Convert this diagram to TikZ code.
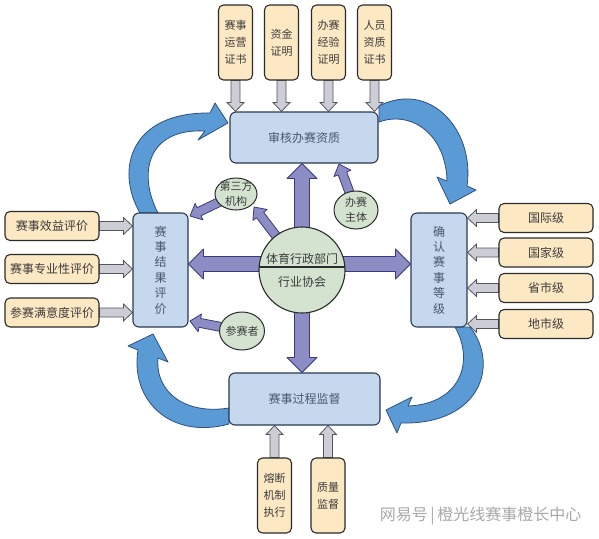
\documentclass[tikz,border=0pt]{standalone}
\usepackage{fontspec}
\setmainfont{Noto Sans CJK SC}
\usetikzlibrary{shapes.geometric, calc, backgrounds}
\definecolor{tanfill}{HTML}{FCE8C3}
\definecolor{bluefill}{HTML}{C6D8EE}
\definecolor{greenfill}{HTML}{D3E3CF}
\definecolor{purpfill}{HTML}{8D8DC6}
\definecolor{curvefill}{HTML}{5B9BD5}
\definecolor{grayfill}{HTML}{CDCDD5}
\definecolor{darkline}{HTML}{2B2B2B}
\definecolor{blueline}{HTML}{2A3A50}
\definecolor{purpline}{HTML}{3A3A7A}
\definecolor{curveline}{HTML}{2E4F80}
\definecolor{grayline}{HTML}{55555F}
\definecolor{txtgray}{HTML}{3C3C3C}
\definecolor{txtblue}{HTML}{4A586C}
\definecolor{markgray}{HTML}{A8A8A8}
% block arrow: style, from, to, shaft half width, head half width, head length
\newcommand{\blockarr}[6]{%
  \coordinate (ba head) at ($(#3)!#6!(#2)$);
  \draw[#1] ($(#2)!#4!90:(#3)$) -- ($(ba head)!#4!90:(#3)$) -- ($(ba head)!#5!90:(#3)$) -- (#3)
    -- ($(ba head)!#5!-90:(#3)$) -- ($(ba head)!#4!-90:(#3)$) -- ($(#2)!#4!-90:(#3)$) -- cycle;
}

\begin{document}
\begin{tikzpicture}[x=1pt,y=-1pt,
  tan box/.style={draw=darkline, fill=tanfill, rounded corners=5pt, line width=1.1pt, text=txtgray, align=center, inner sep=0pt, font=\fontsize{12}{14}\selectfont},
  tall box/.style={tan box, minimum width=34pt, minimum height=75pt, font=\fontsize{11}{17}\selectfont},
  side box/.style={tan box, minimum width=94pt, minimum height=29pt},
  blue box/.style={draw=blueline, fill=bluefill, rounded corners=6pt, line width=1.1pt, text=txtblue, align=center, inner sep=0pt, font=\fontsize{12}{15.4}\selectfont},
  bubble/.style={ellipse, draw=darkline, fill=greenfill, line width=1pt, text=txtgray, align=center, inner sep=-3pt, font=\fontsize{11}{15}\selectfont},
  gray arrow/.style={draw=grayline, fill=grayfill, line width=0.8pt},
  purple arrow/.style={draw=purpline, fill=purpfill, line width=0.8pt, line join=round},
  curve arrow/.style={draw=curveline, fill=curvefill, line width=0.8pt, line join=round}]
\useasboundingbox (0,0) rectangle (599,538);

% qualification inputs
\node[tall box] (zs) at (235.5,42.5) {赛事\\运营\\证书};
\node[tall box] (zj) at (281.5,42.5) {资金\\证明};
\node[tall box] (jy) at (328.5,42.5) {办赛\\经验\\证明};
\node[tall box] (ry) at (374.5,42.5) {人员\\资质\\证书};

% four stages
\node[blue box, minimum width=148pt, minimum height=51pt] (sh) at (304,137.5) {审核办赛资质};
\node[blue box, minimum width=55pt, minimum height=114pt] (jg) at (160.5,270) {赛\\事\\结\\果\\评\\价};
\node[blue box, minimum width=56pt, minimum height=114pt] (dj) at (439,270) {确\\认\\赛\\事\\等\\级};
\node[blue box, minimum width=151pt, minimum height=52pt] (jd) at (304.5,399) {赛事过程监督};

\node[tall box] (rd) at (274.5,495.5) {熔断\\机制\\执行};
\node[tall box] (zl) at (328,495.5) {质量\\监督};

\node[side box] (xy) at (52,226) {赛事效益评价};
\node[side box] (zy) at (52,269) {赛事专业性评价};
\node[side box] (my) at (52,312.5) {参赛满意度评价};

\node[side box] (gj) at (546,218) {国际级};
\node[side box] (gjj) at (546,252.5) {国家级};
\node[side box] (ss) at (546,288) {省市级};
\node[side box] (ds) at (546,324) {地市级};

% centre and players
\node[circle, draw=darkline, fill=greenfill, line width=1.1pt, minimum size=86pt, inner sep=0pt, align=center, text=txtgray, font=\fontsize{12}{16}\selectfont] (c) at (302,270) {体育行政部门\\[7pt]行业协会};
\draw[darkline, line width=1.1pt] (c.176) -- (c.4);
\node[bubble, minimum width=42pt, minimum height=32pt] (dsf) at (236,194) {第三方\\机构};
\node[bubble, minimum width=44pt, minimum height=38pt] (bz) at (356,210) {办赛\\主体};
\node[bubble, minimum width=45pt, minimum height=38pt] (cs) at (242,331) {参赛者};

\coordinate (cy) at ($(c)+(0,-6)$);
\coordinate (t dsf) at (254,207);
\coordinate (t jg1) at (190,216);
\coordinate (t jg2) at (190,321);
\coordinate (t sh) at (339,164);

\begin{scope}[on background layer]
  \foreach \n in {zs,zj,jy,ry}
    \blockarr{gray arrow}{\n.south}{\n.south |- sh.north}{4.5pt}{8.5pt}{9pt};
  \foreach \n in {rd,zl}
    \blockarr{gray arrow}{\n.north}{\n.north |- jd.south}{4.5pt}{8.5pt}{9pt};
  \foreach \n in {xy,zy,my}
    \blockarr{gray arrow}{\n.east}{\n.east -| jg.west}{4.5pt}{8.5pt}{9pt};
  \foreach \n in {gj,gjj,ss,ds}
    \blockarr{gray arrow}{\n.west}{\n.west -| dj.east}{4.5pt}{8.5pt}{9pt};

  \blockarr{purple arrow}{c}{c |- sh.south}{7.5pt}{15pt}{15pt};
  \blockarr{purple arrow}{c}{c |- jd.north}{7.5pt}{15pt}{15pt};
  \blockarr{purple arrow}{cy}{cy -| jg.east}{7.5pt}{15pt}{15pt};
  \blockarr{purple arrow}{cy}{cy -| dj.west}{7.5pt}{15pt}{15pt};

  \blockarr{purple arrow}{c}{t dsf}{4.5pt}{9pt}{10pt};
  \blockarr{purple arrow}{dsf}{t jg1}{4.5pt}{9pt}{10pt};
  \blockarr{purple arrow}{cs}{t jg2}{4.5pt}{9pt}{10pt};
  \blockarr{purple arrow}{bz}{t sh}{4.5pt}{9pt}{10pt};

  % cycle arrows
  \draw[curve arrow] (140,213) .. controls (115,170) and (130,112) .. (210,113) -- (215,103) -- (228,123)
    -- (198,140) -- (205,131) .. controls (146,128) and (138,175) .. (158,213) -- cycle;
  \draw[curve arrow] (379,106) .. controls (430,80) and (475,130) .. (467,186) -- (476,190) -- (450,204)
    -- (437,177) -- (447,181) .. controls (446,135) and (412,110) .. (379,122) -- cycle;
  \draw[curve arrow] (470,327) .. controls (500,365) and (480,425) .. (401,423) -- (397,433) -- (386,410)
    -- (412,397) -- (408,406) .. controls (460,404) and (475,362) .. (455,327) -- cycle;
  \draw[curve arrow] (229,424) .. controls (170,440) and (130,400) .. (138,350) -- (128,346) -- (153,334)
    -- (168,362) -- (158,358) .. controls (155,392) and (185,415) .. (229,408) -- cycle;
\end{scope}

\node[anchor=east, text=markgray, font=\fontsize{16}{16}\selectfont] (mark) at (585,516) {网易号\,|\,橙光线赛事橙长中心};
\end{tikzpicture}
\end{document}
